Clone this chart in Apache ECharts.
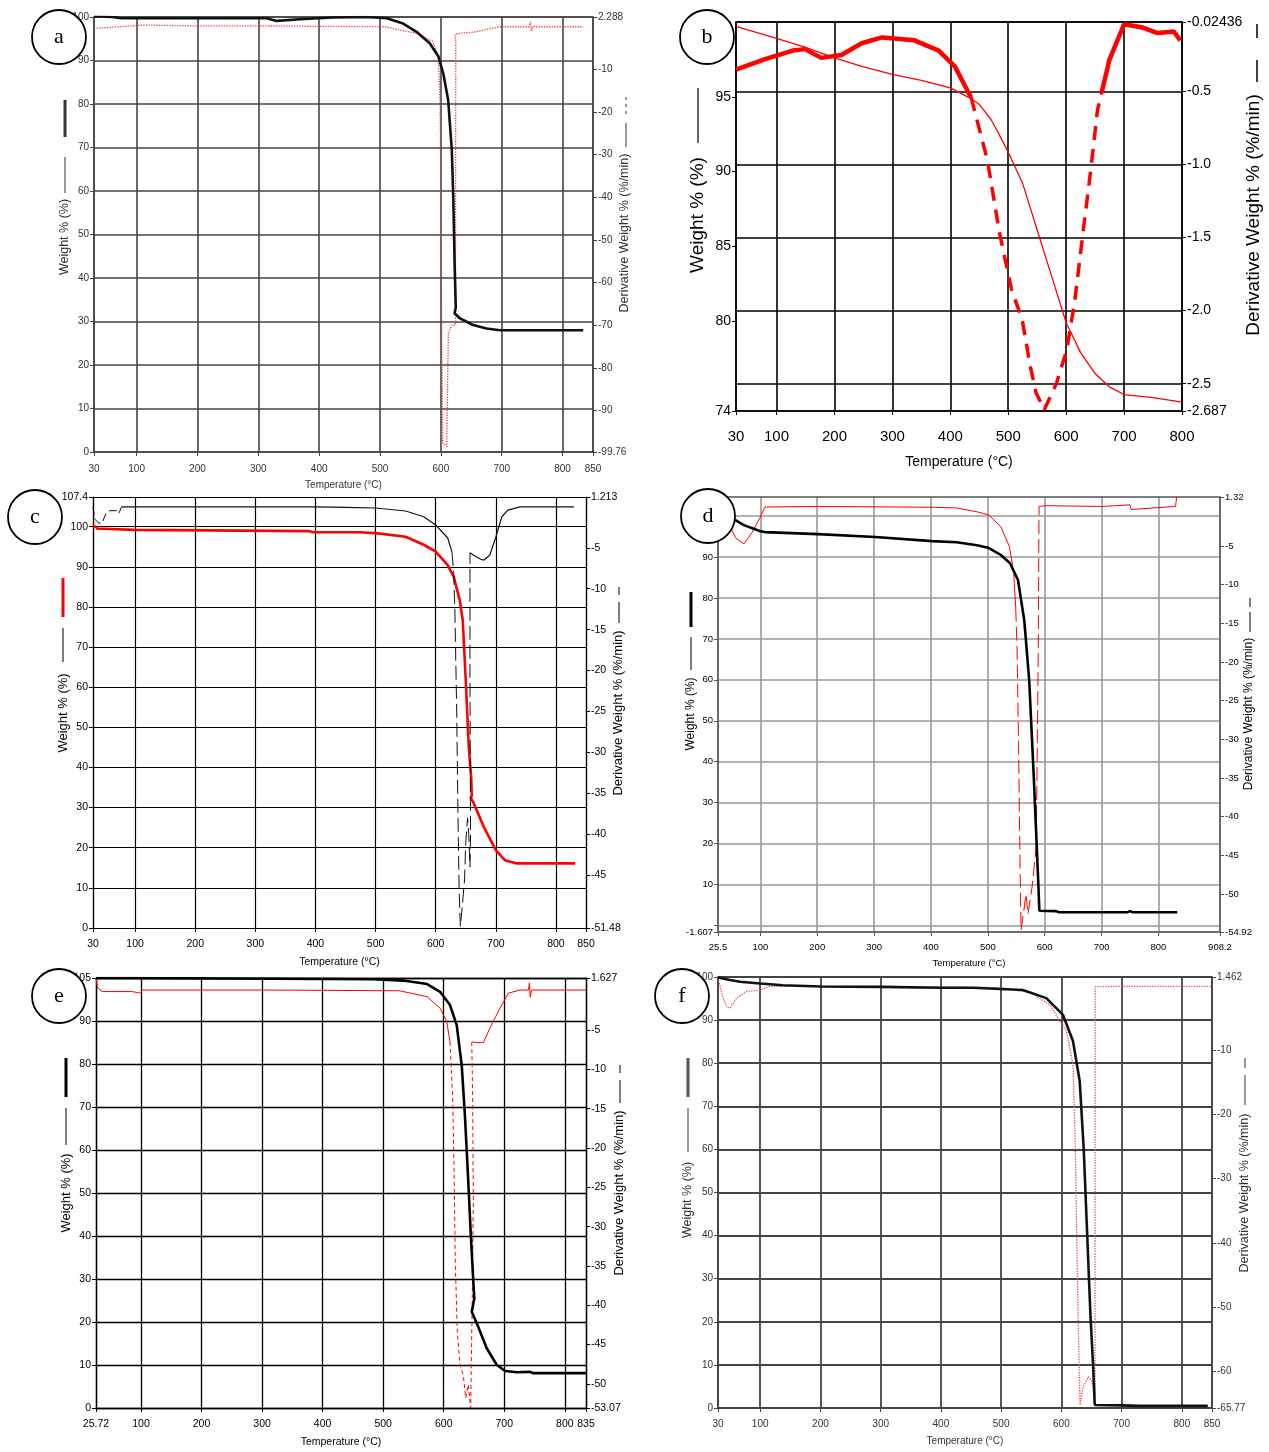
<!DOCTYPE html>
<html>
<head>
<meta charset="utf-8">
<script src="https://cdn.jsdelivr.net/npm/echarts@6/dist/echarts.min.js"></script>
<style>
  html, body { margin: 0; padding: 0; background: #fff; }
  #main { width: 1269px; height: 1452px; }
</style>
</head>
<body>
<div id="main"></div>
<script>
// ---------- panel a ----------
var aXTicks = [30, 100, 200, 300, 400, 500, 600, 700, 800, 850];
var aLeftTicks = [0, 10, 20, 30, 40, 50, 60, 70, 80, 90, 100];
var aRightTicks = [2.288, -10, -20, -30, -40, -50, -60, -70, -80, -90, -99.76];
var aWeight = [[30, 100.2], [60, 100], [75, 99.7], [314, 99.7], [330, 99.1], [368, 99.5], [423, 99.9], [478, 100],
  [511, 99.7], [538, 98.5], [560, 96.6], [582, 93.9], [596, 90.9], [604, 87], [612, 80.9], [618, 69.4],
  [620.5, 57.9], [622.7, 42.6], [624.5, 33.2], [622.5, 31.9], [631.5, 30.7], [653, 29.2], [675, 28.4],
  [697, 28], [834, 28]];
var aDeriv = [[30, -0.4], [60, -0.1], [111, 0.4], [200, 0.2], [300, 0.2], [400, 0.1], [509, 0], [533, -0.8],
  [560, -1.5], [587, -3.5], [596, -7], [598.6, -17.2], [600.3, -40.6], [601.4, -71.9], [603, -97.6],
  [609.6, -98.5], [612.3, -71.9], [618, -70], [624, -70], [624.5, -3], [623, -1.8], [632, -1.5],
  [653, -1.3], [697, 0], [745, 0], [747, 1.2], [749, -1], [751, 0], [834, 0]];

// ---------- panel b ----------
var bXTicks = [30, 100, 200, 300, 400, 500, 600, 700, 800];
var bLeftTicks = [74, 80, 85, 90, 95];
var bRightTicks = [-0.02436, -0.5, -1.0, -1.5, -2.0, -2.5, -2.687];
var bRightLabels = ['-0.02436', '-0.5', '-1.0', '-1.5', '-2.0', '-2.5', '-2.687'];
var bWeight = [[30, 99.7], [100, 98.9], [150, 98.3], [200, 97.6], [250, 97.0], [300, 96.5], [350, 96.1],
  [400, 95.6], [430, 95.0], [450, 94.5], [470, 93.5], [480, 92.8], [500, 91.3], [525, 89.2], [550, 86.1],
  [575, 83.0], [600, 79.9], [625, 77.9], [650, 76.5], [675, 75.6], [700, 75.1], [750, 74.9], [800, 74.6]];
var bDerivSolid1 = [[30, -0.35], [79, -0.28], [128, -0.22], [149, -0.21], [177, -0.27], [212, -0.25],
  [247, -0.17], [282, -0.13], [338, -0.15], [380, -0.22], [408, -0.33], [429, -0.49], [436, -0.54]];
var bDerivDash = [[436, -0.54], [464, -0.97], [485, -1.47], [506, -1.86], [524, -2.06], [538, -2.38],
  [548, -2.56], [562, -2.68], [583, -2.5], [601, -2.27], [615, -1.93], [629, -1.47], [643, -1.02],
  [654, -0.63], [661, -0.51]];
var bDerivSolid2 = [[661, -0.51], [675, -0.28], [700, -0.04], [730, -0.06], [758, -0.1], [786, -0.09], [797, -0.15]];

// ---------- panel c ----------
var cXTicks = [30, 100, 200, 300, 400, 500, 600, 700, 800, 850];
var cLeftTicks = [0, 10, 20, 30, 40, 50, 60, 70, 80, 90, 100, 107.4];
var cRightTicks = [1.213, -5, -10, -15, -20, -25, -30, -35, -40, -45, -51.48];
var cWeight = [[30, 100.1], [35, 100], [37, 99.5], [48, 99.5], [50, 99.2], [98, 99.2], [100, 98.9],
  [390, 98.9], [395, 98.6], [474, 98.6], [500, 98.4], [550, 97.5], [580, 95.5], [600, 93.8], [620, 90.4],
  [630, 87.5], [640, 81.7], [645, 76.7], [650, 61.8], [655, 45.1], [659, 37.6], [660, 33], [658, 32.5],
  [662, 31.5], [680, 25.2], [700, 19.4], [715, 16.9], [735, 16.1], [832, 16.1]];
var cDerivDash1 = [[30, 0.03], [33, -1.5], [40, -2.0], [45, -2.0], [52, -0.7], [58, -0.46], [70, -0.46],
  [73, -0.8], [77.5, 0.0]];
var cDerivSolid1 = [[77.5, 0], [200, 0], [300, 0], [400, 0], [450, -0.05], [500, -0.13], [550, -0.5],
  [580, -1.2], [600, -2.2], [620, -3.8], [627, -5.5]];
var cDerivDash2 = [[627, -5.5], [630, -8], [632, -13], [635, -25.2], [637, -37.4], [639, -47], [641, -51.3],
  [644, -49], [648, -45.6], [650, -41], [653, -38], [655, -40], [657, -44], [658, -40], [657, -20], [657, -5.6]];
var cDerivSolid2 = [[657, -5.6], [665, -6], [675, -6.4], [680, -6.5], [690, -5.9], [700, -3.7], [710, -1.2],
  [720, -0.4], [740, 0], [830, 0]];

// ---------- panel d ----------
var dXTicks = [25.5, 100, 200, 300, 400, 500, 600, 700, 800, 908.2];
var dLeftTicks = [-1.607, 0, 10, 20, 30, 40, 50, 60, 70, 80, 90, 100];
var dLeftLabels = [-1.607, 10, 20, 30, 40, 50, 60, 70, 80, 90];
var dRightTicks = [1.32, -5, -10, -15, -20, -25, -30, -35, -40, -45, -50, -54.92];
var dWeight = [[25.5, 102], [46.6, 99.8], [71, 97.8], [100, 96.3], [108, 96.1], [201, 95.6], [302, 94.9],
  [402, 93.9], [445, 93.6], [481, 92.9], [502, 92.2], [523, 90.5], [539, 88.5], [553, 84.4], [564, 74.6],
  [572.7, 59.9], [581, 35.5], [588.5, 11], [590.6, 3.6], [620, 3.5], [625, 3.2], [745, 3.2], [750, 3.5],
  [755, 3.2], [833, 3.2]];
var dDerivSolid1 = [[25.5, -0.5], [43, -2.0], [57, -4.0], [71, -4.75], [85, -3.3], [100, -1.27], [108, 0.03],
  [200, 0.1], [300, 0.05], [400, 0], [445, -0.1], [481, -0.6], [502, -1.0], [523, -2.55], [538, -5.1],
  [545.5, -8.5], [549, -13]];
var dDerivDash = [[549, -13], [551.2, -18], [554.1, -31], [556.2, -44], [558.3, -54.7], [563.4, -52.1],
  [567, -50], [570.6, -52.6], [577.8, -49.1], [585, -43.9], [588.5, -20], [590, 0.1]];
var dDerivSolid2 = [[590, 0.1], [600, 0.2], [700, 0.1], [750, 0.3], [752, -0.3], [830, 0.1], [832, 1.3]];

// ---------- panel e ----------
var eXTicks = [25.72, 100, 200, 300, 400, 500, 600, 700, 800, 835];
var eLeftTicks = [0, 10, 20, 30, 40, 50, 60, 70, 80, 90, 100];
var eLeftLabels = ['0', '10', '20', '30', '40', '50', '60', '70', '80', '90', '105'];
var eRightTicks = [1.627, -5, -10, -15, -20, -25, -30, -35, -40, -45, -50, -53.07];
var eWeight = [[25.72, 100], [75, 100], [76, 99.9], [483, 99.7], [533, 99.4], [572.6, 98.6], [594, 96.8],
  [610.4, 93.7], [621.4, 89.1], [629.7, 79.8], [635, 68.1], [640.6, 52.6], [644.5, 41], [648.9, 29.4],
  [650.6, 25.5], [646.3, 22.4], [654.6, 19.7], [671, 13.9], [687.7, 10], [701.5, 8.6], [720.8, 8.3],
  [742.7, 8.4], [748, 8.1], [835, 8.1]];
var eDerivSolid1 = [[25.72, 1.6], [28, 0.5], [32.3, 0.1], [36, -0.1], [86, -0.1], [98, -0.3], [103, 0.1],
  [300, 0.1], [527, 0.0], [572.6, -0.75], [594, -2.2], [605, -3.9], [610.4, -6.5]];
var eDerivDash = [[610.4, -6.5], [614.8, -13.6], [617, -22.2], [619.2, -34.9], [622.5, -43.4], [627, -47.6],
  [632.4, -48.9], [636.3, -51.8], [640.6, -50.1], [644.5, -53.07], [647.2, -39.1], [648.9, -26.4],
  [647.8, -13.6], [646.3, -6.5]];
var eDerivSolid2 = [[646.3, -6.5], [654.6, -6.6], [665.6, -6.6], [676.6, -4.7], [693, -2.2], [706.8, -0.3],
  [726, 0.1], [740, 0.1], [741.5, 1.0], [743, -0.8], [745, 0.1], [835, 0.1]];

// ---------- panel f ----------
var fXTicks = [30, 100, 200, 300, 400, 500, 600, 700, 800, 850];
var fLeftTicks = [0, 10, 20, 30, 40, 50, 60, 70, 80, 90, 100];
var fRightTicks = [1.462, -10, -20, -30, -40, -50, -60, -65.77];
var fWeight = [[30, 99.9], [50, 99.3], [66.5, 98.9], [99.7, 98.5], [138, 98.1], [200, 97.8], [300, 97.7],
  [400, 97.5], [453, 97.5], [536, 97.0], [575, 95.1], [602.7, 91.2], [619.3, 85.1], [630.4, 75.8],
  [637, 60.3], [642.6, 41], [648.2, 21.6], [652.6, 10], [655.4, 0.7], [700, 0.6], [730, 0.5], [843, 0.5]];
var fDeriv = [[30, 1.3], [38.3, -1.8], [44.4, -3.2], [50, -3.4], [61, -1.8], [77.6, -0.8], [99.7, -0.6],
  [116, 0], [200, 0], [300, 0], [400, -0.1], [500, -0.2], [550, -1.0], [581, -2.9], [608.8, -7.1],
  [619.3, -12.3], [622.6, -22.7], [625.4, -38.3], [628.2, -53.9], [631, -65.3], [636.4, -62.5],
  [644.8, -60.9], [650.3, -61.5], [655.8, -64], [656, -0.05], [700, 0], [849, 0]];

var SANS = "'Liberation Sans', Arial, sans-serif";

var chart = echarts.init(document.getElementById('main'));
var grids = [], xAxes = [], yAxes = [], series = [], graphics = [];

function fmt(values, labels) {
  return function (v) {
    for (var i = 0; i < values.length; i++) {
      if (Math.abs(values[i] - v) < 1e-6) return labels ? String(labels[i]) : String(values[i]);
    }
    return '';
  };
}

function yAxis(gi, pos, p, ticks, labelVals, labelText, grid) {
  return {
    gridIndex: gi, type: 'value', position: pos,
    min: p.yRange[pos][0], max: p.yRange[pos][1],
    axisLine: { show: true, onZero: false, lineStyle: { color: p.frame, width: p.frameW } },
    axisTick: { show: true, length: 4, customValues: ticks, lineStyle: { color: p.frame } },
    axisLabel: {
      customValues: labelVals, formatter: fmt(labelVals, labelText),
      color: p.text, fontSize: p.fs, fontFamily: SANS, margin: 5
    },
    splitLine: { show: grid, lineStyle: { color: p.grid, width: p.gridW } }
  };
}

function addPanel(p) {
  var gi = grids.length;
  grids.push({ left: p.rect[0], top: p.rect[1], width: p.rect[2], height: p.rect[3], outerBoundsMode: 'none' });
  var xi = xAxes.length;
  xAxes.push({
    gridIndex: gi, type: 'value', position: 'bottom',
    min: p.xTicks[0], max: p.xTicks[p.xTicks.length - 1],
    name: 'Temperature (°C)', nameLocation: 'middle', nameGap: p.nameGap,
    nameTextStyle: { color: p.text, fontSize: p.nameFs, fontFamily: SANS },
    axisLine: { show: true, onZero: false, lineStyle: { color: p.frame, width: p.frameW } },
    axisTick: { show: true, length: 4, customValues: p.xTicks, lineStyle: { color: p.frame } },
    axisLabel: { customValues: p.xTicks, formatter: fmt(p.xTicks), color: p.text, fontSize: p.xfs || p.fs, fontFamily: SANS, margin: p.xMargin },
    splitLine: { show: true, lineStyle: { color: p.grid, width: p.gridW } }
  });
  xAxes.push({
    gridIndex: gi, type: 'value', position: 'top',
    min: p.xTicks[0], max: p.xTicks[p.xTicks.length - 1],
    axisLine: { show: true, onZero: false, lineStyle: { color: p.frame, width: p.frameW } },
    axisTick: { show: false }, axisLabel: { show: false }, splitLine: { show: false }
  });
  var li = yAxes.length;
  yAxes.push(yAxis(gi, 'left', p, p.left.ticks, p.left.labels || p.left.ticks, p.left.text, p.gridOn === 'left'));
  yAxes.push(yAxis(gi, 'right', p, p.right.ticks, p.right.labels || p.right.ticks, p.right.text, p.gridOn === 'right'));
  p.lines.forEach(function (s) {
    series.push({
      type: 'line', xAxisIndex: xi, yAxisIndex: s.axis === 'right' ? li + 1 : li,
      data: s.data, showSymbol: false, symbol: 'none', silent: true, z: s.z || 2,
      lineStyle: { color: s.color, width: s.width, type: s.type || 'solid' }
    });
  });
  // axis titles with their line keys
  graphics.push({
    type: 'text', x: p.leftTitle[0], y: p.leftTitle[1], rotation: Math.PI / 2,
    style: { text: 'Weight % (%)', font: p.titleFs + 'px ' + SANS, fill: p.text, textAlign: 'center', textVerticalAlign: 'middle' }
  });
  graphics.push({
    type: 'text', x: p.rightTitle[0], y: p.rightTitle[1], rotation: Math.PI / 2,
    style: { text: 'Derivative Weight % (%/min)', font: p.titleFs + 'px ' + SANS, fill: p.text, textAlign: 'center', textVerticalAlign: 'middle' }
  });
  p.keys.forEach(function (k) {
    graphics.push({
      type: 'line', shape: { x1: k[0], y1: k[1], x2: k[0], y2: k[2] },
      style: { stroke: k[4] || p.text, lineWidth: k[3], lineDash: k[5] || null }
    });
  });
  // panel letter
  graphics.push({
    type: 'circle', shape: { cx: p.letter[1], cy: p.letter[2], r: 27 }, z: 100,
    style: { fill: '#fff', stroke: '#000', lineWidth: 1.8 }
  });
  graphics.push({
    type: 'text', x: p.letter[1], y: p.letter[2], z: 101,
    style: { text: p.letter[0], font: '22px "Liberation Serif", serif', fill: '#000', textAlign: 'center', textVerticalAlign: 'middle' }
  });
}

// a
addPanel({
  rect: [94, 17, 499, 435], xTicks: aXTicks, nameGap: 28, xMargin: 12,
  yRange: { left: [0, 100], right: [-99.76, 2.288] },
  left: { ticks: aLeftTicks }, right: { ticks: aRightTicks }, gridOn: 'left',
  frame: '#444', frameW: 1.5, grid: '#444', gridW: 1.6, text: '#333', fs: 10, nameFs: 10,
  titleFs: 12.5, leftTitle: [65, 237], rightTitle: [625, 233],
  keys: [[65, 157, 193, 1], [65, 100, 137, 3], [626, 123, 147, 1], [626, 97, 117, 1, '#333', [3, 4]]],
  letter: ['a', 59, 37],
  lines: [
    { data: aDeriv, axis: 'right', color: '#f03c3c', width: 1.3, type: 'dotted', z: 2 },
    { data: aWeight, axis: 'left', color: '#111', width: 2.6, z: 3 }
  ]
});

// b
addPanel({
  rect: [736, 22, 446, 389], xTicks: bXTicks, nameGap: 44, xMargin: 18, xfs: 15,
  yRange: { left: [74, 100], right: [-2.687, -0.02436] },
  left: { ticks: bLeftTicks }, right: { ticks: bRightTicks, text: bRightLabels }, gridOn: 'right',
  frame: '#000', frameW: 1.5, grid: '#000', gridW: 1.6, text: '#000', fs: 14, nameFs: 14,
  titleFs: 19, leftTitle: [698, 215], rightTitle: [1254, 215],
  keys: [[698, 88, 143, 1.2], [1257, 60, 82, 1.5], [1257, 24, 38, 1.5]],
  letter: ['b', 707, 37],
  lines: [
    { data: bWeight, axis: 'left', color: '#ff0000', width: 1.3, z: 2 },
    { data: bDerivSolid1, axis: 'right', color: '#ff0000', width: 4.5, z: 3 },
    { data: bDerivDash, axis: 'right', color: '#ff0000', width: 3.5, type: [14, 9], z: 3 },
    { data: bDerivSolid2, axis: 'right', color: '#ff0000', width: 4.5, z: 3 }
  ]
});

// c
addPanel({
  rect: [93, 497, 493, 431], xTicks: cXTicks, nameGap: 29, xMargin: 11,
  yRange: { left: [0, 107.4], right: [-51.48, 1.213] },
  left: { ticks: cLeftTicks }, right: { ticks: cRightTicks }, gridOn: 'left',
  frame: '#000', frameW: 1.2, grid: '#000', gridW: 1.2, text: '#000', fs: 10.5, nameFs: 10.5,
  titleFs: 13, leftTitle: [63, 713], rightTitle: [618, 713],
  keys: [[63, 628, 662, 1], [63, 578, 617, 3, '#ff0000'], [619, 602, 623, 1], [619, 587, 595, 1]],
  letter: ['c', 35, 517],
  lines: [
    { data: cWeight, axis: 'left', color: '#ff0000', width: 2.6, z: 2 },
    { data: cDerivDash1, axis: 'right', color: '#111', width: 1, type: [8, 4], z: 3 },
    { data: cDerivSolid1, axis: 'right', color: '#111', width: 1.2, z: 3 },
    { data: cDerivDash2, axis: 'right', color: '#111', width: 1, type: [14, 5], z: 3 },
    { data: cDerivSolid2, axis: 'right', color: '#111', width: 1.2, z: 3 }
  ]
});

// d
addPanel({
  rect: [718, 497, 502, 435], xTicks: dXTicks, nameGap: 26, xMargin: 10,
  yRange: { left: [-1.607, 104.67], right: [-54.92, 1.32] },
  left: { ticks: dLeftTicks, labels: dLeftLabels }, right: { ticks: dRightTicks }, gridOn: 'left',
  frame: '#555', frameW: 1.5, grid: '#999', gridW: 1.6, text: '#000', fs: 9.5, nameFs: 9.5,
  titleFs: 12, leftTitle: [691, 714], rightTitle: [1249, 714],
  keys: [[691, 637, 670, 1], [691, 592, 627, 3], [1250, 612, 632, 1], [1250, 598, 607, 1]],
  letter: ['d', 708, 516],
  lines: [
    { data: dDerivSolid1, axis: 'right', color: '#ff0000', width: 1, z: 2 },
    { data: dDerivDash, axis: 'right', color: '#ff0000', width: 1, type: [14, 5], z: 2 },
    { data: dDerivSolid2, axis: 'right', color: '#ff0000', width: 1, z: 2 },
    { data: dWeight, axis: 'left', color: '#000', width: 2.6, z: 3 }
  ]
});

// e
addPanel({
  rect: [96, 978, 490, 430], xTicks: eXTicks, nameGap: 29, xMargin: 11,
  yRange: { left: [0, 100], right: [-53.07, 1.627] },
  left: { ticks: eLeftTicks, text: eLeftLabels }, right: { ticks: eRightTicks }, gridOn: 'left',
  frame: '#000', frameW: 1.3, grid: '#000', gridW: 1.3, text: '#000', fs: 10.5, nameFs: 10.5,
  titleFs: 13, leftTitle: [66, 1193], rightTitle: [619, 1193],
  keys: [[66, 1108, 1145, 1], [66, 1058, 1097, 3], [620, 1080, 1103, 1], [620, 1065, 1073, 1]],
  letter: ['e', 59, 996],
  lines: [
    { data: eDerivSolid1, axis: 'right', color: '#ff0000', width: 1, z: 2 },
    { data: eDerivDash, axis: 'right', color: '#ff0000', width: 1, type: [4, 3], z: 2 },
    { data: eDerivSolid2, axis: 'right', color: '#ff0000', width: 1, z: 2 },
    { data: eWeight, axis: 'left', color: '#000', width: 2.6, z: 3 }
  ]
});

// f
addPanel({
  rect: [718, 977, 494, 431], xTicks: fXTicks, nameGap: 28, xMargin: 11,
  yRange: { left: [0, 100], right: [-65.77, 1.462] },
  left: { ticks: fLeftTicks }, right: { ticks: fRightTicks }, gridOn: 'left',
  frame: '#444', frameW: 1.6, grid: '#444', gridW: 1.8, text: '#333', fs: 10, nameFs: 10,
  titleFs: 12.5, leftTitle: [688, 1200], rightTitle: [1245, 1193],
  keys: [[688, 1108, 1152, 1], [688, 1058, 1097, 3, '#555'], [1245, 1075, 1105, 1], [1245, 1058, 1068, 1]],
  letter: ['f', 682, 996],
  lines: [
    { data: fDeriv, axis: 'right', color: '#e84848', width: 1.3, type: 'dotted', z: 2 },
    { data: fWeight, axis: 'left', color: '#111', width: 2.6, z: 3 }
  ]
});

chart.setOption({
  animation: false,
  backgroundColor: '#fff',
  grid: grids,
  xAxis: xAxes,
  yAxis: yAxes,
  series: series,
  graphic: { elements: graphics }
});
</script>
</body>
</html>
